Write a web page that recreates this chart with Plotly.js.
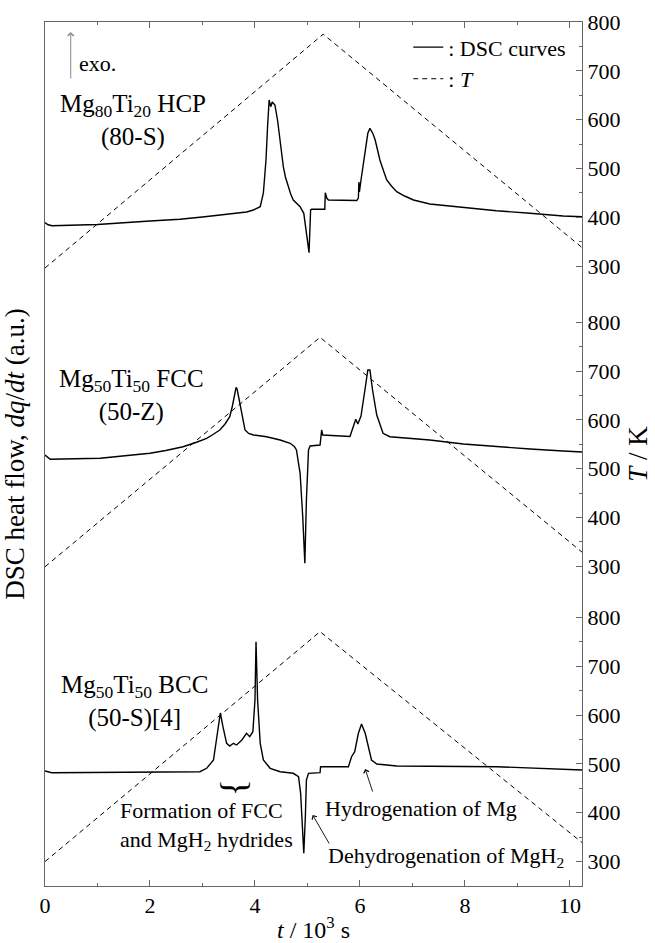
<!DOCTYPE html>
<html>
<head>
<meta charset="utf-8">
<script src="https://cdn.plot.ly/plotly-3.0.1.min.js"></script>
<style>html,body{margin:0;padding:0;background:#fff;}#chart{width:655px;height:943px;}</style>
</head>
<body>
<div id="chart"></div>
<script>
// ---------- data ----------
// time in 10^3 s, DSC heat flow in arbitrary units
const tTop = [0, 0.05, 0.13, 1.0, 2.0, 2.57, 3.0, 3.59, 3.84, 3.97, 4.10, 4.16, 4.21, 4.24, 4.27, 4.30, 4.33, 4.35, 4.38, 4.43, 4.48, 4.54, 4.58, 4.63, 4.68, 4.73, 4.80, 4.86, 4.93, 4.98, 5.03, 5.06, 5.08, 5.33, 5.34, 5.37, 5.40, 5.94, 5.97, 5.98, 5.99, 6.02, 6.05, 6.10, 6.15, 6.19, 6.25, 6.29, 6.38, 6.45, 6.51, 6.60, 6.70, 6.85, 7.02, 7.33, 7.97, 8.60, 9.24, 9.87, 10.23];
const dscTop = [66.33, 66.15, 66.03, 66.15, 66.5, 66.67, 66.9, 67.22, 67.4, 67.6, 67.93, 69.3, 72.6, 75.93, 78.6, 77.93, 78.4, 78.27, 78.1, 76.6, 74.27, 71.93, 70.9, 69.93, 69.2, 68.6, 68.2, 67.93, 67.27, 65.27, 63.33, 67.6, 67.67, 67.67, 69.33, 68.77, 68.6, 68.55, 68.8, 70.4, 69.4, 70.6, 71.6, 73.27, 75.27, 75.77, 75.2, 74.6, 72.6, 71.5, 70.6, 70.0, 69.43, 69.0, 68.6, 68.2, 67.83, 67.53, 67.27, 67.0, 66.93];

const tMid = [0, 0.1, 1.05, 2.0, 2.3, 2.63, 2.9, 3.08, 3.2, 3.33, 3.43, 3.52, 3.57, 3.59, 3.62, 3.64, 3.66, 3.68, 3.72, 3.75, 3.78, 3.81, 3.88, 3.97, 4.22, 4.48, 4.67, 4.75, 4.79, 4.86, 4.91, 4.95, 4.98, 5.02, 5.05, 5.24, 5.27, 5.29, 5.81, 5.87, 5.92, 5.96, 6.02, 6.10, 6.15, 6.19, 6.24, 6.32, 6.44, 6.57, 7.33, 7.97, 8.60, 9.24, 9.87, 10.23];
const dscMid = [43.1, 42.67, 42.77, 43.27, 43.55, 43.93, 44.4, 44.77, 45.15, 45.6, 46.2, 46.93, 48.0, 48.6, 49.6, 49.87, 49.7, 49.1, 48.0, 47.1, 46.2, 45.6, 45.25, 45.1, 44.93, 44.6, 44.27, 43.95, 43.6, 41.27, 36.93, 32.27, 38.6, 43.6, 44.0, 44.1, 45.6, 45.1, 44.95, 45.9, 46.67, 46.2, 47.0, 49.8, 51.6, 51.6, 49.6, 47.1, 45.27, 44.93, 44.6, 44.2, 43.93, 43.7, 43.5, 43.4];

const tBot = [0, 0.13, 2.95, 3.08, 3.21, 3.27, 3.34, 3.39, 3.46, 3.52, 3.59, 3.65, 3.75, 3.84, 3.90, 3.96, 4.00, 4.02, 4.05, 4.10, 4.16, 4.29, 4.48, 4.73, 4.83, 4.87, 4.91, 4.93, 4.96, 4.98, 5.02, 5.24, 5.25, 5.78, 5.84, 5.90, 5.97, 6.03, 6.10, 6.16, 6.22, 6.32, 6.70, 8.60, 10.23];
const dscBot = [11.5, 11.33, 11.43, 11.77, 12.6, 14.6, 17.3, 15.93, 14.27, 14.0, 14.27, 14.1, 14.6, 15.27, 14.93, 15.43, 18.6, 24.43, 18.6, 14.27, 12.6, 11.77, 11.43, 11.27, 10.93, 9.27, 5.27, 3.27, 6.93, 10.6, 11.27, 11.33, 11.93, 11.93, 12.93, 13.43, 15.27, 16.2, 15.27, 13.93, 12.6, 12.2, 12.0, 11.93, 11.6];

// temperature programme, K
const tTempTop = [0, 5.30, 10.23];
const tempTop = [296, 775, 338];
const tTempMid = [0, 5.24, 10.23];
const tempMid = [299, 769, 329];
const tTempBot = [0, 5.24, 10.23];
const tempBot = [300, 771, 339];

// tick labels
const xTicks = [0, 2, 4, 6, 8, 10];
const tempTicks = [300, 400, 500, 600, 700, 800];
const tempMinor = [350, 450, 550, 650, 750];

const panelLabelsL1 = ['Mg<sub>80</sub>Ti<sub>20</sub> HCP', 'Mg<sub>50</sub>Ti<sub>50</sub> FCC', 'Mg<sub>50</sub>Ti<sub>50</sub> BCC'];
const panelLabelsL2 = ['(80-S)', '(50-Z)', '(50-S)[4]'];

// ---------- layout helpers ----------
const OFF = [1220, 605, 0];   // vertical stacking of the three T scales
const FONT = "'Liberation Serif', 'Times New Roman', serif";
const AX = '#666';

const tickvals = [], ticktext = [], minorvals = [];
OFF.forEach(o => {
  tempTicks.forEach(v => { tickvals.push(v + o); ticktext.push(String(v)); });
  tempMinor.forEach(v => minorvals.push(v + o));
});

const dscLine = {color: '#000', width: 1.4};
const tLine = {color: '#000', width: 1, dash: '5px,4px'};

const traces = [
  {x: tTop, y: dscTop, type: 'scatter', mode: 'lines', line: dscLine, name: ': DSC curves', showlegend: true, yaxis: 'y'},
  {x: tMid, y: dscMid, type: 'scatter', mode: 'lines', line: dscLine, showlegend: false, yaxis: 'y'},
  {x: tBot, y: dscBot, type: 'scatter', mode: 'lines', line: dscLine, showlegend: false, yaxis: 'y'},
  {x: tTempTop, y: tempTop.map(v => v + OFF[0]), type: 'scatter', mode: 'lines', line: tLine, name: ': <i>T</i>', showlegend: true, yaxis: 'y2'},
  {x: tTempMid, y: tempMid.map(v => v + OFF[1]), type: 'scatter', mode: 'lines', line: tLine, showlegend: false, yaxis: 'y2'},
  {x: tTempBot, y: tempBot.map(v => v + OFF[2]), type: 'scatter', mode: 'lines', line: tLine, showlegend: false, yaxis: 'y2'}
];

const labelPos = [[1.67, 76.6], [1.64, 49.1], [1.71, 18.5]];
const annotations = [];
for (let i = 0; i < 3; i++) {
  annotations.push({x: labelPos[i][0], y: labelPos[i][1], xref: 'x', yref: 'y', text: panelLabelsL1[i] + '<br>' + panelLabelsL2[i], align: 'center', showarrow: false, font: {family: FONT, size: 25, color: '#000'}});
}
const aFont = {family: FONT, size: 22, color: '#000'};
annotations.push(
  // exo. arrow
  {x: 0.49, y: 85.4, ax: 0.49, ay: 80.6, axref: 'x', ayref: 'y', xref: 'x', yref: 'y', text: '', showarrow: true, arrowhead: 4, arrowsize: 1.2, arrowwidth: 1, arrowcolor: '#888'},
  {x: 0.60, y: 82.3, xref: 'x', yref: 'y', text: 'exo.', xanchor: 'left', showarrow: false, font: {family: FONT, size: 22, color: '#000'}},
  // brace
  {x: 3.66, y: 9.9, xref: 'x', yref: 'y', text: '}', textangle: 90, showarrow: false, font: {family: FONT, size: 36, color: '#000'}},
  {x: 1.39, y: 6.0, xref: 'x', yref: 'y', text: 'Formation of FCC<br>and MgH<sub>2</sub> hydrides', align: 'left', xanchor: 'left', showarrow: false, font: aFont},
  {x: 7.16, y: 7.8, xref: 'x', yref: 'y', text: 'Hydrogenation of Mg', showarrow: false, font: aFont},
  {x: 6.10, y: 11.7, ax: 6.25, ay: 9.3, axref: 'x', ayref: 'y', xref: 'x', yref: 'y', text: '', showarrow: true, arrowhead: 4, arrowsize: 1.2, arrowwidth: 0.9, arrowcolor: '#000'},
  {x: 7.64, y: 2.9, xref: 'x', yref: 'y', text: 'Dehydrogenation of MgH<sub>2</sub>', showarrow: false, font: aFont},
  {x: 5.10, y: 7.1, ax: 5.43, ay: 4.1, axref: 'x', ayref: 'y', xref: 'x', yref: 'y', text: '', showarrow: true, arrowhead: 4, arrowsize: 1.2, arrowwidth: 0.9, arrowcolor: '#000'}
);

const layout = {
  width: 655, height: 943,
  margin: {l: 45, r: 73, t: 22, b: 57, pad: 0},
  paper_bgcolor: '#fff', plot_bgcolor: '#fff',
  font: {family: FONT, size: 22, color: '#000'},
  showlegend: true,
  legend: {x: 0.98, y: 0.995, xanchor: 'right', yanchor: 'top', bgcolor: 'rgba(0,0,0,0)', font: {family: FONT, size: 22, color: '#000'}, tracegroupgap: 0, itemwidth: 30},
  xaxis: {
    range: [0, 10.23], tickmode: 'array', tickvals: xTicks, ticktext: xTicks.map(String),
    ticks: 'inside', ticklen: 6, tickcolor: AX, tickwidth: 1,
    minor: {dtick: 1, tick0: 0, ticks: 'inside', ticklen: 3, tickcolor: AX, showgrid: false},
    showline: true, linecolor: AX, linewidth: 1, mirror: 'ticks',
    showgrid: false, zeroline: false,
    tickfont: {family: FONT, size: 22, color: '#000'},
    title: {text: '<i>t</i> / 10<sup>3</sup> s', font: {family: FONT, size: 24, color: '#000'}, standoff: 6}
  },
  yaxis: {
    range: [0, 86.4], showticklabels: false, ticks: '',
    showline: true, linecolor: AX, linewidth: 1,
    showgrid: false, zeroline: false,
    title: {text: 'DSC heat flow, <i>dq</i>/<i>dt</i> (a.u.)', font: {family: FONT, size: 27, color: '#000'}, standoff: 14}
  },
  yaxis2: {
    overlaying: 'y', side: 'right', range: [250, 2020],
    tickmode: 'array', tickvals: tickvals, ticktext: ticktext,
    ticks: 'inside', ticklen: 6, tickcolor: AX, tickwidth: 1,
    minor: {tickmode: 'array', tickvals: minorvals, ticks: 'inside', ticklen: 3, tickcolor: AX, showgrid: false},
    showline: true, linecolor: AX, linewidth: 1,
    showgrid: false, zeroline: false,
    tickfont: {family: FONT, size: 22, color: '#000'},
    title: {text: '<i>T</i> / K', font: {family: FONT, size: 27, color: '#000'}, standoff: 8}
  },
  annotations: annotations
};

Plotly.newPlot('chart', traces, layout, {staticPlot: true, displayModeBar: false});
</script>
</body>
</html>
